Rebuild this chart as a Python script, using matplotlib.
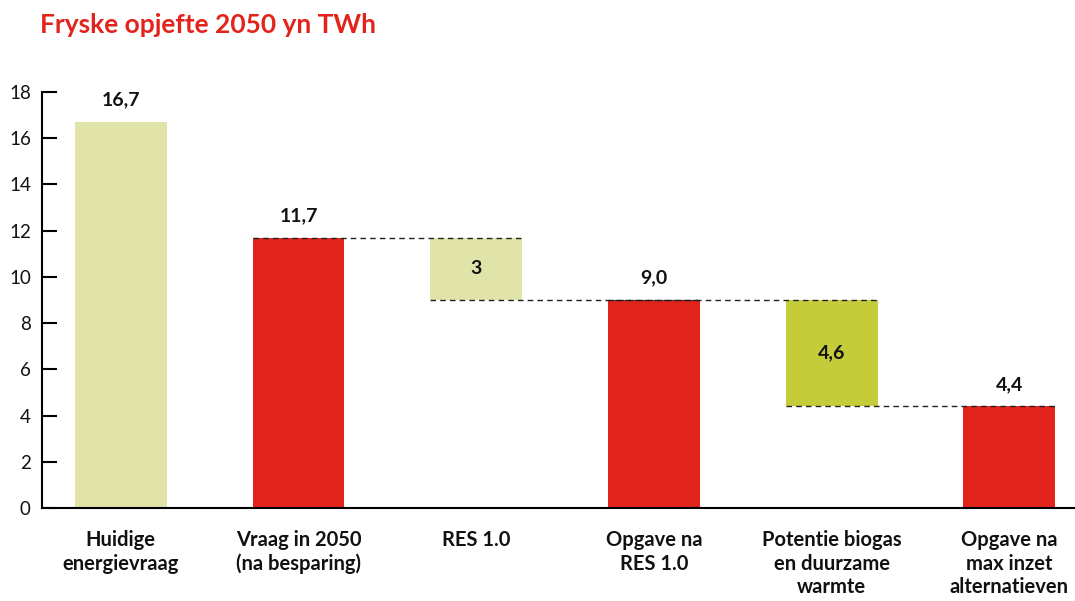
# Waterfall chart: Fryske opjefte 2050 yn TWh

import numpy as np
import matplotlib.pyplot as plt

plt.rcParams['font.family'] = ['Lato', 'DejaVu Sans']

# Data
categories = ['Huidige\nenergievraag', 'Vraag in 2050\n(na besparing)', 'RES 1.0',
              'Opgave na\nRES 1.0', 'Potentie biogas\nen duurzame\nwarmte',
              'Opgave na\nmax inzet\nalternatieven']
totals = [16.7, 11.7, None, 9.0, None, 4.4]
steps = [None, None, 2.7, None, 4.6, None]
value_labels = ['16,7', '11,7', '3', '9,0', '4,6', '4,4']
colors = ['#e0e4a9', '#e3241d', '#e0e4a9', '#e3241d', '#c5cc3a', '#e3241d']

# Heights and bottoms of the bars
heights = []
bottoms = []
running = 0
for t, s in zip(totals, steps):
    if t is not None:
        heights.append(t)
        bottoms.append(0)
        running = t
    else:
        heights.append(s)
        bottoms.append(running - s)
        running = running - s

x = np.arange(len(categories))
w = 0.517

fig = plt.figure(figsize=(10.75, 6.01), dpi=100)
ax = fig.add_axes([0.039, 0.1547, 0.961, 0.6925])

ax.bar(x, heights, width=w, bottom=bottoms, color=colors, zorder=2)

# dashed connectors around the step bars
for i in range(1, len(x)):
    if totals[i] is None:
        top = bottoms[i] + heights[i]
        ax.plot([x[i - 1] - w / 2, x[i] + w / 2], [top, top],
                color='#222222', lw=1, dashes=(4, 3), zorder=3)
        low = bottoms[i]
        ax.plot([x[i] - w / 2, x[i + 1] + w / 2], [low, low],
                color='#222222', lw=1, dashes=(4, 3), zorder=3)

# value labels
for i in range(len(x)):
    if totals[i] is None:
        ax.text(x[i], bottoms[i] + heights[i] / 2, value_labels[i], ha='center',
                va='center', fontsize=14, fontweight='bold', color='#111111')
    else:
        ax.text(x[i], heights[i] + 0.95, value_labels[i], ha='center',
                va='center', fontsize=14, fontweight='bold', color='#111111')

ax.set_xlim(-0.444, 5.37)
ax.set_ylim(0, 18)
ax.set_yticks(np.arange(0, 19, 2))
ax.set_xticks(x)
ax.set_xticklabels(categories, fontsize=14.5, fontweight='bold', color='#111111',
                   linespacing=1.22, va='top')
ax.tick_params(axis='x', length=0, pad=16)
ax.tick_params(axis='y', direction='in', length=11, width=1.5, pad=8,
               labelsize=13.5, labelcolor='#111111')

for s in ['top', 'right']:
    ax.spines[s].set_visible(False)
ax.spines['left'].set_linewidth(1.5)
ax.spines['bottom'].set_linewidth(1.5)

fig.text(0.037, 0.958, 'Fryske opjefte 2050 yn TWh', color='#e3241d',
         fontsize=19, fontweight='bold', va='center', ha='left')

plt.savefig('out.png', dpi=100)
